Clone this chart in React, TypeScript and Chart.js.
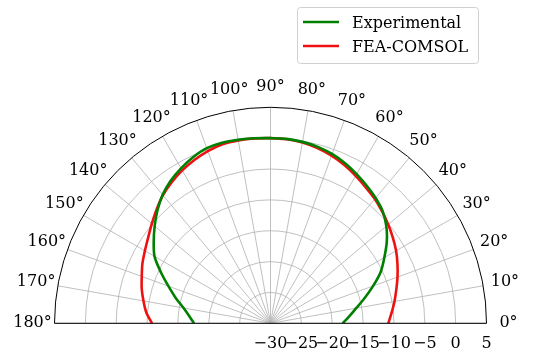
import React, { useEffect, useRef } from 'react';
import { Chart, registerables } from 'chart.js';

Chart.register(...registerables);

// Angles in degrees, values in dB
const angles = [
  0, 5, 10, 15, 20, 25, 30, 35, 40, 45, 50, 55, 60, 65, 70, 75, 80, 85, 90,
  95, 100, 105, 110, 115, 120, 125, 130, 135, 140, 145, 150, 155, 160, 165, 170, 175, 180,
];
const experimental = [
  -18.3, -17.2, -15.9, -14.2, -12.3, -10.3, -8.7, -7.0, -5.5, -4.3, -3.5, -2.8, -2.1, -1.4, -0.8, -0.4, -0.15, 0.0, 0.0,
  0.1, 0.2, 0.3, 0.2, -0.3, -1.0, -1.8, -2.8, -4.1, -5.5, -6.9, -8.3, -10.4, -12.4, -14.1, -15.7, -16.8, -17.6,
];
const feaComsol = [
  -10.9, -10.3, -9.6, -8.9, -8.1, -7.3, -6.5, -5.8, -5.1, -4.4, -3.7, -3.1, -2.4, -1.7, -1.1, -0.6, -0.25, -0.05, 0.0,
  0.05, 0.1, 0.05, -0.3, -0.8, -1.4, -2.1, -2.9, -3.9, -4.9, -5.8, -6.5, -7.1, -7.8, -8.4, -9.1, -9.8, -10.8,
];
const seriesNames = ['Experimental', 'FEA-COMSOL'];
const seriesColors = ['#008000', '#ee1111'];
const radialTicks = [-30, -25, -20, -15, -10, -5, 0, 5];
const angleTicks = [0, 10, 20, 30, 40, 50, 60, 70, 80, 90, 100, 110, 120, 130, 140, 150, 160, 170, 180];
const rMin = -30;
const rMax = 5;

const FONT = '16px "DejaVu Serif"';

function toXY(deg: number, val: number) {
  const t = (deg * Math.PI) / 180;
  const rr = val - rMin;
  return { x: rr * Math.cos(t), y: rr * Math.sin(t) };
}

const polarPlugin = {
  id: 'polarGrid',
  beforeDatasetsDraw(chart: any) {
    const { ctx } = chart;
    const xs = chart.scales.x;
    const ys = chart.scales.y;
    const cx = xs.getPixelForValue(0);
    const cy = ys.getPixelForValue(0);
    const R = xs.getPixelForValue(rMax - rMin) - cx;
    ctx.save();
    ctx.strokeStyle = '#b0b0b0';
    ctx.lineWidth = 0.8;
    radialTicks.forEach((t) => {
      const r = xs.getPixelForValue(t - rMin) - cx;
      if (r <= 0 || r >= R) return;
      ctx.beginPath();
      ctx.arc(cx, cy, r, Math.PI, 2 * Math.PI);
      ctx.stroke();
    });
    angleTicks.forEach((a) => {
      const t = (a * Math.PI) / 180;
      ctx.beginPath();
      ctx.moveTo(cx, cy);
      ctx.lineTo(cx + R * Math.cos(t), cy - R * Math.sin(t));
      ctx.stroke();
    });
    ctx.restore();
  },
  afterDatasetsDraw(chart: any) {
    const { ctx } = chart;
    const xs = chart.scales.x;
    const ys = chart.scales.y;
    const cx = xs.getPixelForValue(0);
    const cy = ys.getPixelForValue(0);
    const R = xs.getPixelForValue(rMax - rMin) - cx;
    ctx.save();
    ctx.strokeStyle = '#000000';
    ctx.lineWidth = 1;
    ctx.beginPath();
    ctx.arc(cx, cy, R, Math.PI, 2 * Math.PI);
    ctx.stroke();
    ctx.beginPath();
    ctx.moveTo(cx - R, cy);
    ctx.lineTo(cx + R, cy);
    ctx.stroke();

    // angle labels
    ctx.fillStyle = '#000000';
    ctx.font = FONT;
    ctx.textAlign = 'center';
    ctx.textBaseline = 'alphabetic';
    const D = R + 22;
    angleTicks.forEach((a) => {
      const t = (a * Math.PI) / 180;
      const x = cx + D * Math.cos(t);
      const y = cy - D * Math.sin(t) - 2 * Math.abs(Math.cos(t));
      ctx.fillText(`${a}°`, x, y + 5.8);
    });

    // radial labels
    radialTicks.forEach((v) => {
      const x = xs.getPixelForValue(v - rMin);
      const txt = v < 0 ? `\u2212${Math.abs(v)}` : `${v}`;
      ctx.fillText(txt, x, cy + 25);
    });

    // legend
    const lx = 297.5, ly = 7.5, lw = 181, lh = 56;
    ctx.beginPath();
    const rad = 3;
    ctx.moveTo(lx + rad, ly);
    ctx.lineTo(lx + lw - rad, ly);
    ctx.arcTo(lx + lw, ly, lx + lw, ly + rad, rad);
    ctx.lineTo(lx + lw, ly + lh - rad);
    ctx.arcTo(lx + lw, ly + lh, lx + lw - rad, ly + lh, rad);
    ctx.lineTo(lx + rad, ly + lh);
    ctx.arcTo(lx, ly + lh, lx, ly + lh - rad, rad);
    ctx.lineTo(lx, ly + rad);
    ctx.arcTo(lx, ly, lx + rad, ly, rad);
    ctx.closePath();
    ctx.fillStyle = 'rgba(255,255,255,0.8)';
    ctx.fill();
    ctx.strokeStyle = '#d0d0d0';
    ctx.lineWidth = 1;
    ctx.stroke();
    ctx.textAlign = 'left';
    chart.data.datasets.forEach((ds: any, i: number) => {
      const yy = 22 + i * 24;
      ctx.strokeStyle = ds.borderColor;
      ctx.lineWidth = 2.6;
      ctx.beginPath();
      ctx.moveTo(303, yy);
      ctx.lineTo(339, yy);
      ctx.stroke();
      ctx.fillStyle = '#000000';
      ctx.fillText(ds.label, 352, yy + 5.6);
    });
    ctx.restore();
  },
};

export default function App() {
  const ref = useRef<HTMLCanvasElement | null>(null);
  useEffect(() => {
    if (!ref.current) return;
    const series = [experimental, feaComsol];
    const chart = new Chart(ref.current, {
      type: 'scatter',
      data: {
        datasets: series.map((vals, i) => ({
          label: seriesNames[i],
          data: angles.map((a, j) => toXY(a, vals[j])),
          showLine: true,
          borderColor: seriesColors[i],
          backgroundColor: seriesColors[i],
          borderWidth: 2.6,
          pointRadius: 0,
          tension: 0.3,
          fill: false,
        })),
      },
      options: {
        responsive: false,
        animation: false,
        layout: { padding: { left: 54.5, right: 53.5, top: 107.3, bottom: 34.7 } },
        scales: {
          x: { type: 'linear', min: -(rMax - rMin), max: rMax - rMin, display: false },
          y: { type: 'linear', min: 0, max: rMax - rMin, display: false },
        },
        plugins: { legend: { display: false }, tooltip: { enabled: false } },
      },
      plugins: [polarPlugin],
    });
    return () => chart.destroy();
  }, []);
  return (
    <div style={{ position: 'fixed', left: 0, top: 0, width: 540, height: 358, background: '#fff' }}>
      <canvas ref={ref} width={540} height={358} style={{ display: 'block' }} />
    </div>
  );
}
